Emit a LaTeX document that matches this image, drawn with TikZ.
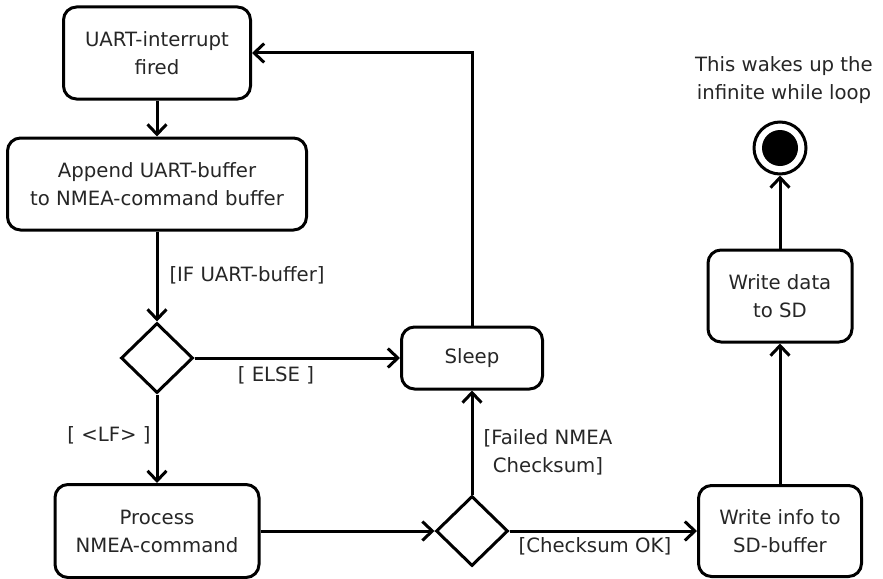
\documentclass[tikz,border=0pt]{standalone}
\usepackage{fontspec}
\setmainfont{DejaVu Sans}
\usetikzlibrary{shapes.geometric,arrows.meta}
\begin{document}
\begin{tikzpicture}[x=1pt, y=-1pt, line width=3pt,
  font=\fontsize{19.7}{28}\selectfont,
  act/.style={rectangle, rounded corners=13pt, draw, align=center, inner sep=0pt, text=black!85},
  choice/.style={diamond, draw, inner sep=0pt, minimum width=72pt, minimum height=70pt},
  flow/.style={-{Straight Barb[length=10pt, width=19pt, line width=3pt]}},
  guard/.style={align=center, inner sep=0pt, text=black!85}]
\useasboundingbox (0,0) rectangle (883,578);

\node [act, minimum width=187pt, minimum height=92pt] (fired) at (157,53) {UART-interrupt\\fired};
\node [act, minimum width=299pt, minimum height=92pt] (append) at (157,184) {Append UART-buffer\\to NMEA-command buffer};
\node [choice] (lf) at (157,358) {};
\node [act, minimum width=141pt, minimum height=62pt] (sleep) at (472,358) {Sleep};
\node [act, minimum width=204pt, minimum height=93pt] (process) at (157,531) {Process\\NMEA-command};
\node [choice] (check) at (472,531) {};
\node [act, minimum width=163pt, minimum height=91pt] (info) at (780,531) {Write info to\\SD-buffer};
\node [act, minimum width=144pt, minimum height=92pt] (data) at (780,296) {Write data\\to SD};
\node [circle, draw, minimum size=52pt, inner sep=0pt] (done) at (780,148) {};
\node [circle, fill=black, minimum size=36pt, inner sep=0pt] (donein) at (780,148) {};

\draw [flow] (fired) edge (append);
\draw [flow] (append) edge (lf);
\draw [flow] (lf) edge (sleep);
\draw [flow] (lf) edge (process);
\draw [flow] (process) edge (check);
\draw [flow] (check) edge (sleep);
\draw [flow] (check) edge (info);
\draw [flow] (info) edge (data);
\draw [flow] (data) edge (done);
\draw [flow] (sleep.north) |- (fired.east);

\node [guard, anchor=west] (g-if) at (168,275) {[IF UART-buffer]};
\node [guard] (g-else) at (276,375) {[ ELSE ]};
\node [guard] (g-lf) at (109,435) {[ <LF> ]};
\node [guard] (g-fail) at (548,452) {[Failed NMEA\\Checksum]};
\node [guard] (g-ok) at (595,546) {[Checksum OK]};
\node [guard] (note) at (784,80) {This wakes up the\\infinite while loop};
\end{tikzpicture}
\end{document}
